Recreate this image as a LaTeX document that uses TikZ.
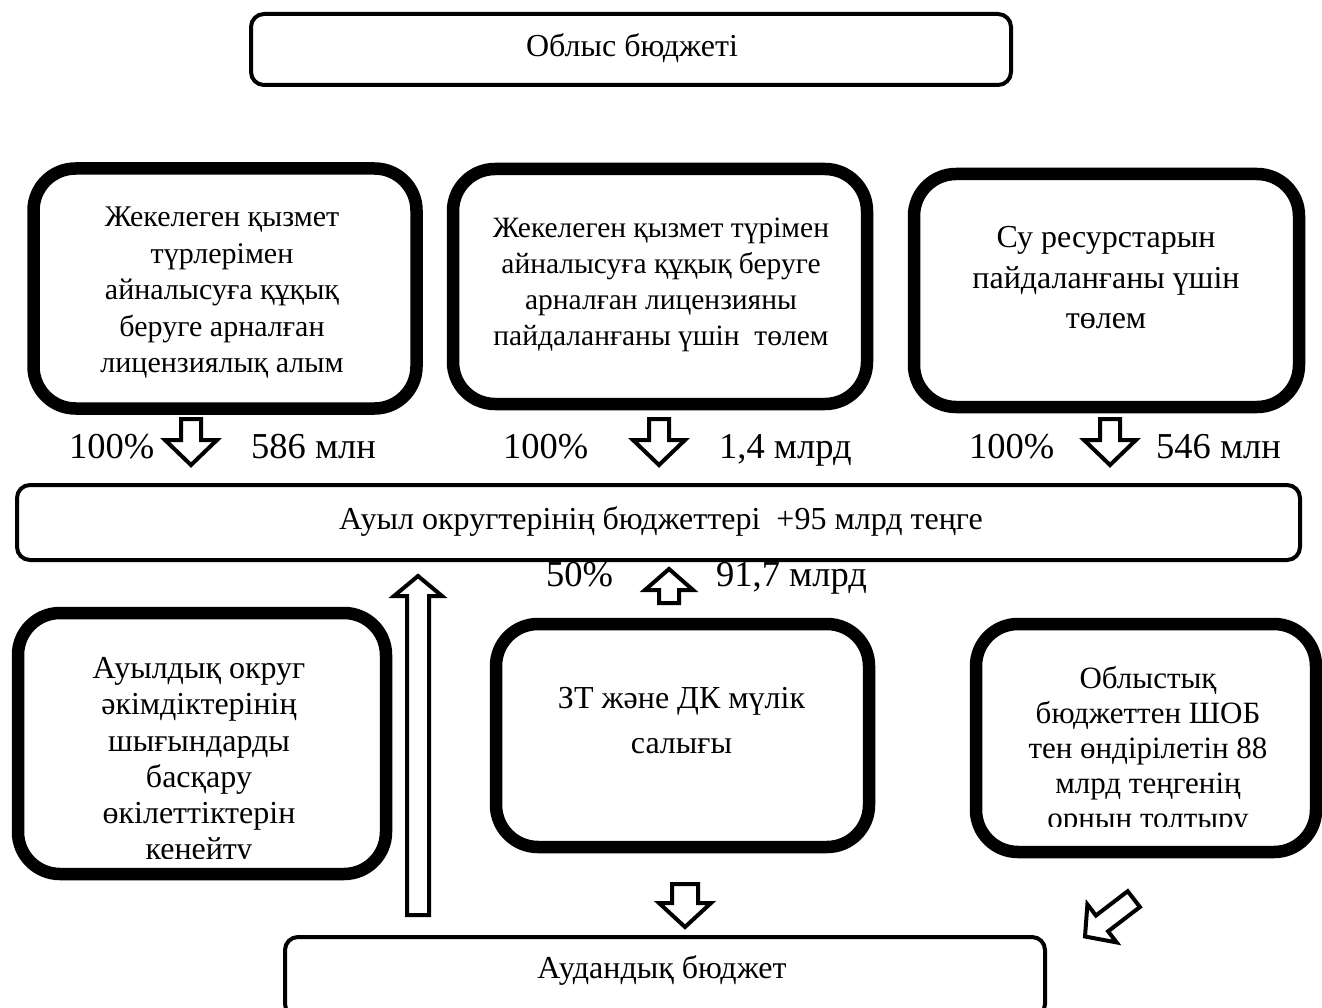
\documentclass[tikz,border=0pt]{standalone}
\usepackage{fontspec}
\setmainfont{Liberation Serif}
\tikzset{
  thinbox/.style={draw=black, line width=4pt, rounded corners=13pt, minimum width=#1},
  thickbox/.style={draw=black, line width=12.5pt, rounded corners=42pt},
  txt/.style={align=center, inner sep=0pt, text=black},
  lbl/.style={inner sep=0pt, anchor=base west, font=\fontsize{36.5}{42}\selectfont},
  barrow/.style={draw=black, fill=white, line width=4pt, line join=miter}
}
\newcommand\vblockarrow[6]{% cx, tip, headbase, tail, shaft half, head half
  \draw[barrow] (#1,#2) -- ({#1-#6},#3) -- ({#1-#5},#3) -- ({#1-#5},#4)
     -- ({#1+#5},#4) -- ({#1+#5},#3) -- ({#1+#6},#3) -- cycle;}
\begin{document}
\begin{tikzpicture}[x=1pt,y=-1pt]
\useasboundingbox (0,0) rectangle (1322,1008);
\fill[white] (0,0) rectangle (1322,1008);

% top box
\node[thinbox=760pt, minimum height=71pt] (oblys) at (631,49.5) {};
\node[txt, font=\fontsize{32}{38}\selectfont] (oblysT) at (632,48) {Облыс бюджеті};

% row 1
\node[thickbox, minimum width=383pt, minimum height=240pt] (boxA) at (225,288.5) {};
\node[txt, font=\fontsize{30}{36.5}\selectfont] (boxAT) at (222,293)
 {Жекелеген қызмет\\түрлерімен\\айналысуға құқық\\беруге арналған\\лицензиялық алым};

\node[thickbox, minimum width=414pt, minimum height=235pt] (boxB) at (660,286.5) {};
\node[txt, font=\fontsize{29.5}{36}\selectfont] (boxBT) at (661,285)
 {Жекелеген қызмет түрімен\\айналысуға құқық беруге\\арналған лицензияны\\пайдаланғаны үшін\ \ төлем};

\node[thickbox, minimum width=385pt, minimum height=233pt] (boxC) at (1106.5,290.5) {};
\node[txt, font=\fontsize{32}{40.5}\selectfont] (boxCT) at (1106,278)
 {Су ресурстарын\\пайдаланғаны үшін\\төлем};

% labels row 1
\node[lbl] (p1) at (69,458) {100\%};
\node[lbl] (v1) at (251,458) {586 млн};
\node[lbl] (p2) at (503,458) {100\%};
\node[lbl] (v2) at (719,458) {1,4 млрд};
\node[lbl] (p3) at (969,458) {100\%};
\node[lbl] (v3) at (1156,458) {546 млн};

\vblockarrow{191}{465}{440}{419}{10}{26}
\vblockarrow{659}{465}{440}{419}{10}{26}
\vblockarrow{1110}{465}{440}{419}{10}{26}

% labels row 2
\node[lbl] (p4) at (546,586) {50\%};
\node[lbl] (v4) at (716,586) {91,7 млрд};

% middle box
\node[thinbox=1283pt, minimum height=75pt] (auyl) at (658.5,522.5) {};
\node[txt, font=\fontsize{32}{38}\selectfont] (auylT) at (661,521)
 {Ауыл округтерінің бюджеттері\ \ +95 млрд теңге};

\vblockarrow{669}{569}{590}{603}{10}{24}
\vblockarrow{418}{576}{596}{915}{11}{24}

% row 2 boxes
\node[thickbox, minimum width=368pt, minimum height=261pt] (boxD) at (202,743.5) {};
\begin{scope}
\clip (20,615) rectangle (384,858);
\node[txt, font=\fontsize{32}{36.2}\selectfont] (boxDT) at (199,762)
 {Ауылдық округ\\әкімдіктерінің\\шығындарды\\басқару\\өкілеттіктерін\\кеңейту};
\end{scope}

\node[thickbox, minimum width=373pt, minimum height=223pt] (boxE) at (682.5,735.5) {};
\node[txt, font=\fontsize{32}{45}\selectfont] (boxET) at (681.5,721)
 {ЗТ және ДК мүлік\\салығы};

\node[thickbox, minimum width=340pt, minimum height=228pt] (boxF) at (1146,738) {};
\begin{scope}
\clip (978,626) rectangle (1314,826);
\node[txt, font=\fontsize{31}{35}\selectfont] (boxFT) at (1148,751)
 {Облыстық\\бюджеттен ШОБ\\тен өндірілетін 88\\млрд теңгенің\\орнын толтыру};
\end{scope}

\vblockarrow{685}{927}{903}{884}{13}{26}

% diagonal arrow
\draw[barrow] (1085,936.5) -- (1116.6,942.4) -- (1108.1,931.3) -- (1139.9,907.0)
  -- (1127.7,891.2) -- (1095.9,915.5) -- (1087.4,904.4) -- cycle;

% bottom box
\node[thinbox=760pt, minimum height=80pt] (audan) at (665,977) {};
\node[txt, font=\fontsize{32}{38}\selectfont] (audanT) at (662,970) {Аудандық бюджет};
\end{tikzpicture}
\end{document}
